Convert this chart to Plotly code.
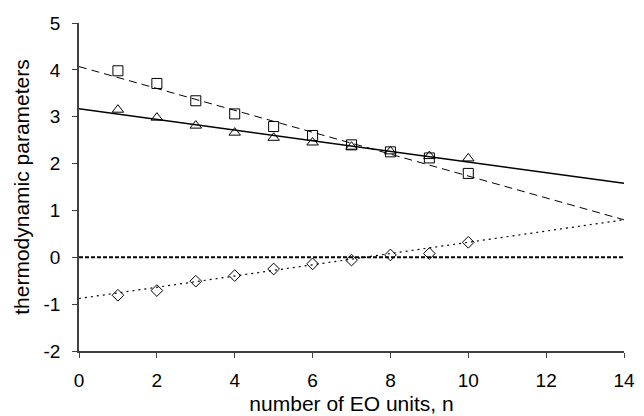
import plotly.graph_objects as go

n_units = [1, 2, 3, 4, 5, 6, 7, 8, 9, 10]
squares = [3.98, 3.71, 3.34, 3.06, 2.79, 2.60, 2.40, 2.25, 2.12, 1.79]
triangles = [3.15, 2.98, 2.81, 2.66, 2.55, 2.45, 2.36, 2.26, 2.16, 2.11]
diamonds = [-0.81, -0.71, -0.51, -0.39, -0.25, -0.14, -0.06, 0.05, 0.08, 0.32]

fit_x = [0, 14]
fit_squares = [4.07, 0.80]
fit_triangles = [3.17, 1.58]
fit_diamonds = [-0.88, 0.80]
zero_line = [0, 0]

x_ticks = [0, 2, 4, 6, 8, 10, 12, 14]
y_ticks = [-2, -1, 0, 1, 2, 3, 4, 5]

fig = go.Figure()

fig.add_trace(go.Scatter(x=fit_x, y=zero_line, mode="lines",
                         line=dict(color="black", width=2, dash="4px,2px"), showlegend=False))
fig.add_trace(go.Scatter(x=fit_x, y=fit_squares, mode="lines",
                         line=dict(color="black", width=1, dash="8px,5px"), showlegend=False))
fig.add_trace(go.Scatter(x=fit_x, y=fit_triangles, mode="lines",
                         line=dict(color="black", width=1.5), showlegend=False))
fig.add_trace(go.Scatter(x=fit_x, y=fit_diamonds, mode="lines",
                         line=dict(color="black", width=1.2, dash="2px,4px"), showlegend=False))

fig.add_trace(go.Scatter(x=n_units, y=squares, mode="markers",
                         marker=dict(symbol="square-open", size=10, color="black", line=dict(width=1)),
                         showlegend=False))
fig.add_trace(go.Scatter(x=n_units, y=triangles, mode="markers",
                         marker=dict(symbol="triangle-up-open", size=10, color="black", line=dict(width=1)),
                         showlegend=False))
fig.add_trace(go.Scatter(x=n_units, y=diamonds, mode="markers",
                         marker=dict(symbol="diamond-open", size=9, color="black", line=dict(width=1)),
                         showlegend=False))

tick_font = dict(family="Liberation Sans, Arial, sans-serif", size=19, color="black")
title_font = dict(family="Liberation Sans, Arial, sans-serif", size=21, color="black")

fig.update_layout(
    width=644, height=416,
    margin=dict(l=79, r=20, t=23, b=65),
    paper_bgcolor="white", plot_bgcolor="white",
    font=tick_font,
    xaxis=dict(range=[0, 14], tickvals=x_ticks, ticktext=[str(v) for v in x_ticks],
               showgrid=False, zeroline=False, showline=True, linecolor="#404040", linewidth=1.5,
               ticks="outside", ticklen=5, tickcolor="#404040", tickfont=tick_font,
               ticklabelstandoff=6, automargin=False,
               title=dict(text="number of EO units, n", font=title_font, standoff=7)),
    yaxis=dict(range=[-2, 5], tickvals=y_ticks, ticktext=[str(v) for v in y_ticks],
               showgrid=False, zeroline=False, showline=True, linecolor="#404040", linewidth=1.5,
               ticks="outside", ticklen=5, tickcolor="#404040", tickfont=tick_font,
               ticklabelstandoff=8, automargin=False,
               title=dict(text="thermodynamic parameters", font=title_font, standoff=8)),
)

fig.write_html("out.html")
